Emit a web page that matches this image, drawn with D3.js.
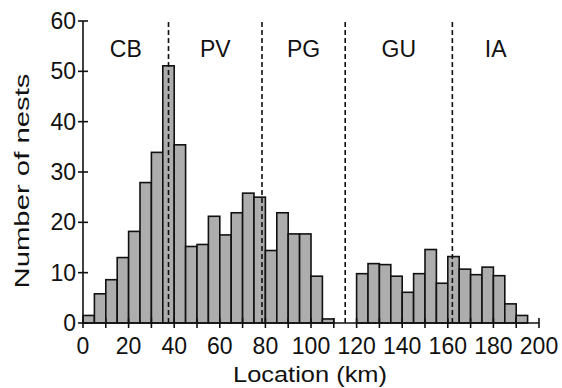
<!DOCTYPE html>
<html>
<head>
<meta charset="utf-8">
<script src="https://cdn.jsdelivr.net/npm/d3@7"></script>
<style>
  body { margin: 0; background: #fff; }
  text { font-family: "Liberation Sans", Arial, sans-serif; fill: #111; }
</style>
</head>
<body>
<svg id="chart" width="562" height="388"></svg>
<script>
// 5 km bins, lower edge of each bin
var binStarts = d3.range(0, 200, 5);
var nests = [1.5, 5.8, 8.6, 13.0, 18.2, 27.9, 33.9, 51.1, 35.4, 15.2,
             15.6, 21.2, 17.5, 21.9, 25.8, 25.0, 14.4, 21.9, 17.7, 17.7,
             9.3, 0.8, 0, 0, 9.8, 11.8, 11.6, 9.3, 6.1, 9.8,
             14.6, 7.9, 13.2, 10.7, 9.6, 11.1, 9.4, 3.8, 1.5, 0];
var boundaries = [37.5, 78.5, 115, 162];
var regions = ["CB", "PV", "PG", "GU", "IA"];
var xTicks = d3.range(0, 201, 10);
var xLabels = d3.range(0, 201, 20);
var yTicks = [0, 10, 20, 30, 40, 50, 60];

var svg = d3.select("#chart");
var x = d3.scaleLinear().domain([0, 200]).range([83, 539]);
var y = d3.scaleLinear().domain([0, 60]).range([323, 21]);

var data = binStarts.map(function(s, i) { return { x0: s, x1: s + 5, n: nests[i] }; });

svg.append("g")
  .selectAll("rect")
  .data(data.filter(function(d) { return d.n > 0; }))
  .enter().append("rect")
    .attr("x", function(d) { return x(d.x0); })
    .attr("width", function(d) { return x(d.x1) - x(d.x0); })
    .attr("y", function(d) { return y(d.n); })
    .attr("height", function(d) { return y(0) - y(d.n); })
    .attr("fill", "#adadad")
    .attr("stroke", "#111")
    .attr("stroke-width", 1.6);

// region boundaries
svg.append("g")
  .selectAll("line")
  .data(boundaries)
  .enter().append("line")
    .attr("x1", x).attr("x2", x)
    .attr("y1", y(0)).attr("y2", y(60))
    .attr("stroke", "#111")
    .attr("stroke-width", 1.6)
    .attr("stroke-dasharray", "5,3");

var edges = [0].concat(boundaries, [200]);
svg.append("g")
  .selectAll("text")
  .data(regions)
  .enter().append("text")
    .attr("x", function(d, i) { return x((edges[i] + edges[i + 1]) / 2); })
    .attr("y", y(54.5))
    .attr("dy", "0.35em")
    .attr("text-anchor", "middle")
    .attr("font-size", 23)
    .text(function(d) { return d; });

// x axis
var xAxis = svg.append("g").attr("transform", "translate(0," + y(0) + ")");
xAxis.append("line")
  .attr("x1", x(0)).attr("x2", x(200))
  .attr("stroke", "#111").attr("stroke-width", 1.6);
xAxis.selectAll("line.tick")
  .data(xTicks)
  .enter().append("line")
    .attr("class", "tick")
    .attr("x1", x).attr("x2", x)
    .attr("y1", -5).attr("y2", 5)
    .attr("stroke", "#111").attr("stroke-width", 1.6);
xAxis.selectAll("text")
  .data(xLabels)
  .enter().append("text")
    .attr("x", x)
    .attr("y", 31)
    .attr("text-anchor", "middle")
    .attr("font-size", 23)
    .text(function(d) { return d; });

// y axis
var yAxis = svg.append("g").attr("transform", "translate(" + x(0) + ",0)");
yAxis.append("line")
  .attr("y1", y(0)).attr("y2", y(60))
  .attr("stroke", "#111").attr("stroke-width", 1.6);
yAxis.selectAll("line.tick")
  .data(yTicks)
  .enter().append("line")
    .attr("class", "tick")
    .attr("y1", y).attr("y2", y)
    .attr("x1", -5).attr("x2", 5)
    .attr("stroke", "#111").attr("stroke-width", 1.6);
yAxis.selectAll("text")
  .data(yTicks)
  .enter().append("text")
    .attr("x", -7)
    .attr("y", y)
    .attr("dy", "0.35em")
    .attr("text-anchor", "end")
    .attr("font-size", 23)
    .text(function(d) { return d; });

svg.append("text")
  .attr("transform", "translate(29,181) rotate(-90)")
  .attr("text-anchor", "middle")
  .attr("font-size", 21)
  .attr("textLength", 215)
  .attr("lengthAdjust", "spacingAndGlyphs")
  .text("Number of nests");

svg.append("text")
  .attr("x", 310)
  .attr("y", 382)
  .attr("text-anchor", "middle")
  .attr("font-size", 22)
  .attr("textLength", 154)
  .attr("lengthAdjust", "spacingAndGlyphs")
  .text("Location (km)");
</script>
</body>
</html>
